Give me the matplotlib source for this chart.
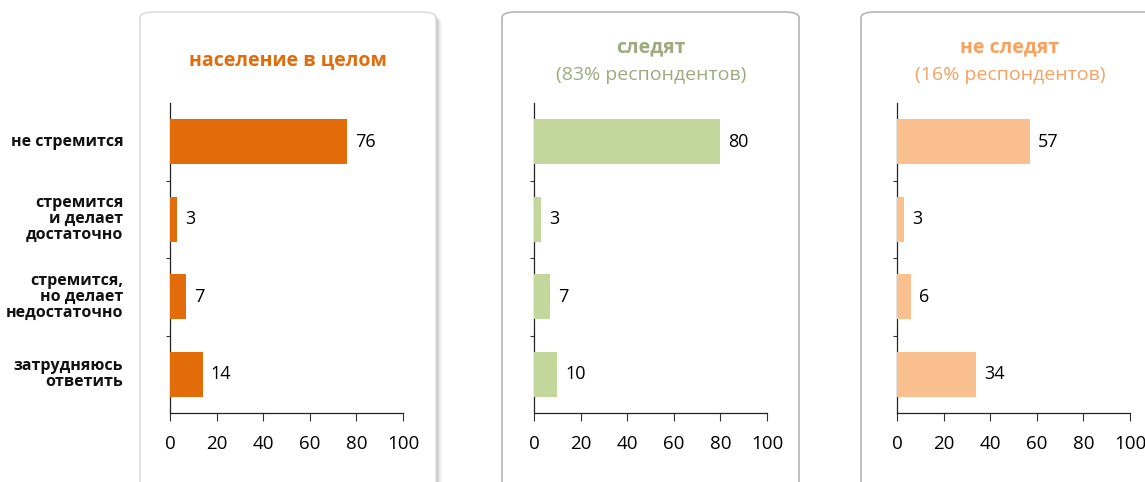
import matplotlib
matplotlib.use("Agg")
import matplotlib.pyplot as plt
from matplotlib.patches import FancyBboxPatch

categories = ["не стремится", "стремится\nи делает\nдостаточно",
              "стремится,\nно делает\nнедостаточно", "затрудняюсь\nответить"]
total_vals = [76, 3, 7, 14]
follow_vals = [80, 3, 7, 10]
notfollow_vals = [57, 3, 6, 34]
xticks = [0, 20, 40, 60, 80, 100]

titles = [("население в целом", None), ("следят", "(83% респондентов)"),
          ("не следят", "(16% респондентов)")]
bar_colors = ["#e36c0a", "#c3d69b", "#fac090"]
title_colors = ["#e36c0a", "#9dab80", "#f8a160"]
series = [total_vals, follow_vals, notfollow_vals]

plt.rcParams['font.family'] = ['Open Sans', 'DejaVu Sans']

W, H = 1145, 482
fig = plt.figure(figsize=(W / 100, H / 100), dpi=100)

def fx(px):
    return px / W

def fy(py):
    return 1 - py / H

# panel boxes (pixel coords: left, top, right, bottom)
boxes = [(140, 12, 436, 492), (502, 12, 799, 492), (861, 12, 1165, 492)]
for i, (l, t, r, b) in enumerate(boxes):
    if i == 0:
        for k, a in enumerate([0.04, 0.05, 0.07, 0.09]):
            off = 6 - k * 1.5
            sh = FancyBboxPatch((fx(l + off), fy(b + off)), fx(r - l), fy(t) - fy(b),
                                boxstyle="round,pad=0,rounding_size=0.012",
                                transform=fig.transFigure, facecolor="black",
                                edgecolor="none", alpha=a, zorder=0)
            fig.patches.append(sh)
        ec = "#dddddd"
    else:
        ec = "#b5b5b5"
    p = FancyBboxPatch((fx(l), fy(b)), fx(r - l), fy(t) - fy(b),
                       boxstyle="round,pad=0,rounding_size=0.012",
                       transform=fig.transFigure, facecolor="white",
                       edgecolor=ec, linewidth=1.2, zorder=1)
    fig.patches.append(p)

axis_left = [170, 534, 897]
ax_w = 233
ax_top, ax_bot = 103, 413
ypos = list(range(len(categories)))

for i in range(3):
    ax = fig.add_axes([fx(axis_left[i]), fy(ax_bot), fx(ax_w), (ax_bot - ax_top) / H])
    ax.set_zorder(5)
    ax.set_facecolor("none")
    vals = series[i]
    ax.barh(ypos, vals, height=0.58, color=bar_colors[i], zorder=3)
    for y, v in zip(ypos, vals):
        ax.text(v + 3.4, y, str(v), va="center", ha="left", fontsize=13, color="black")
    ax.set_xlim(0, 100)
    ax.set_ylim(3.5, -0.5)
    ax.set_xticks(xticks)
    ax.set_xticklabels([str(t) for t in xticks], fontsize=13.5)
    ax.set_yticks([0.5, 1.5, 2.5])
    ax.set_yticklabels([])
    ax.tick_params(axis="y", length=3, width=0.8, color="#333333")
    ax.tick_params(axis="x", length=6, width=0.8, color="#333333", pad=10)
    for s in ["top", "right"]:
        ax.spines[s].set_visible(False)
    ax.spines["left"].set_color("#222222")
    ax.spines["bottom"].set_color("#222222")
    ax.spines["left"].set_linewidth(0.9)
    ax.spines["bottom"].set_linewidth(0.9)
    if i == 0:
        for y, c in zip(ypos, categories):
            ax.text(-0.20, y, c, transform=ax.get_yaxis_transform(), ha="right",
                    va="center", fontsize=11.5, fontweight="bold", linespacing=1.0,
                    color="#111111")

# titles
title_cx = [288, 651, 1010]
for i, (t1, t2) in enumerate(titles):
    if t2 is None:
        fig.text(fx(title_cx[i]), fy(60), t1, ha="center", va="center", fontsize=14,
                 fontweight="bold", color=title_colors[i], zorder=6)
    else:
        fig.text(fx(title_cx[i]), fy(47), t1, ha="center", va="center", fontsize=14,
                 fontweight="bold", color=title_colors[i], zorder=6)
        fig.text(fx(title_cx[i]), fy(75), t2, ha="center", va="center", fontsize=14,
                 color=title_colors[i], zorder=6)

fig.savefig("out.png", dpi=100)
